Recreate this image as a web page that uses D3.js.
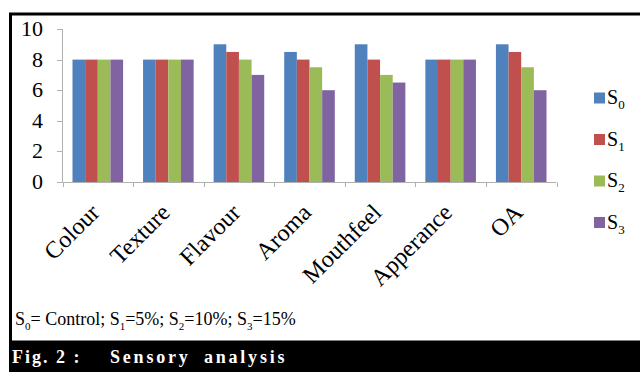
<!DOCTYPE html>
<html><head><meta charset="utf-8">
<script src="https://cdn.jsdelivr.net/npm/d3@7"></script>
<style>
html,body{margin:0;padding:0;background:#fff;}
svg{display:block;}
svg text{font-family:"Liberation Serif","Times New Roman",serif;}
</style></head>
<body><svg id="c" width="640" height="372"></svg>
<script>
const categories = ["Colour","Texture","Flavour","Aroma","Mouthfeel","Apperance","OA"];
const seriesNames = ["0","1","2","3"];
const S0 = [8, 8, 9, 8.5, 9, 8, 9];
const S1 = [8, 8, 8.5, 8, 8, 8, 8.5];
const S2 = [8, 8, 8, 7.5, 7, 8, 7.5];
const S3 = [8, 8, 7, 6, 6.5, 8, 6];
const yTicks = [0, 2, 4, 6, 8, 10];
const colors = ["#4F81BD","#C0504D","#9BBB59","#8064A2"];
const seriesValues = [S0, S1, S2, S3];

const svg = d3.select("#c");

// frame
svg.append("rect").attr("x",10.5).attr("y",14).attr("width",640).attr("height",328)
  .attr("fill","#fff").attr("stroke","#000").attr("stroke-width",3);
svg.append("rect").attr("x",9).attr("y",342).attr("width",631).attr("height",30).attr("fill","#000");

const x = d3.scaleBand().domain(categories).range([62.5, 556.5]).paddingInner(0).paddingOuter(0);
const xi = d3.scaleBand().domain(seriesNames).range([0, x.bandwidth()]).paddingInner(0).paddingOuter(0.79);
const y = d3.scaleLinear().domain([0, 10]).range([182, 29]);

// bars
const g = svg.append("g");
categories.forEach((c, ci) => {
  seriesNames.forEach((s, si) => {
    const v = seriesValues[si][ci];
    g.append("rect")
      .attr("x", x(c) + xi(s))
      .attr("y", y(v))
      .attr("width", xi.bandwidth())
      .attr("height", y(0) - y(v))
      .attr("fill", colors[si]);
  });
});

// axes
const axisColor = "#b0b0b0";
svg.append("line").attr("x1",62.5).attr("x2",62.5).attr("y1",y(10)).attr("y2",y(0)).attr("stroke",axisColor);
svg.append("line").attr("x1",62.5).attr("x2",556.5).attr("y1",182.5).attr("y2",182.5).attr("stroke",axisColor);
yTicks.forEach(t => {
  svg.append("line").attr("x1",57).attr("x2",62.5).attr("y1",Math.round(y(t))+0.5).attr("y2",Math.round(y(t))+0.5).attr("stroke",axisColor);
  svg.append("text").attr("x",43).attr("y",y(t)+7).attr("text-anchor","end")
    .attr("font-size",22).attr("fill","#000").text(t);
});
categories.concat(["end"]).forEach((c, i) => {
  const xx = (i < categories.length ? x(c) : x(categories[categories.length-1]) + x.bandwidth());
  svg.append("line").attr("x1",Math.round(xx)+0.5).attr("x2",Math.round(xx)+0.5).attr("y1",182.5).attr("y2",187).attr("stroke",axisColor);
});
categories.forEach(c => {
  const cx = x(c) + x.bandwidth()/2;
  svg.append("text").attr("text-anchor","end").attr("font-size",24)
    .attr("transform",`translate(${cx+3},214) rotate(-45)`).text(c);
});

// legend
seriesNames.forEach((s, i) => {
  const cy = 98 + i*41.5;
  svg.append("rect").attr("x",594).attr("y",cy-5.5).attr("width",11).attr("height",11).attr("fill",colors[i]);
  const t = svg.append("text").attr("x",607).attr("y",cy+6).attr("font-size",20);
  t.append("tspan").text("S");
  t.append("tspan").attr("font-size",13).attr("dy",5).text(s);
});

// footnote
const fn = svg.append("text").attr("x",15).attr("y",325).attr("font-size",18);
const parts = [["0","= Control; "],["1","=5%; "],["2","=10%; "],["3","=15%"]];
parts.forEach(([sub, rest]) => {
  fn.append("tspan").text("S");
  fn.append("tspan").attr("font-size",11).attr("dy",5).text(sub);
  fn.append("tspan").attr("dy",-5).text(rest);
});

// caption
svg.append("text").attr("x",12).attr("y",363).attr("font-size",18).attr("font-weight","bold")
  .attr("fill","#fff").attr("letter-spacing",2).text("Fig. 2 :");
svg.append("text").attr("x",110).attr("y",363).attr("font-size",18).attr("font-weight","bold")
  .attr("fill","#fff").attr("letter-spacing",2.8).attr("word-spacing",6).text("Sensory analysis");
</script></body></html>
